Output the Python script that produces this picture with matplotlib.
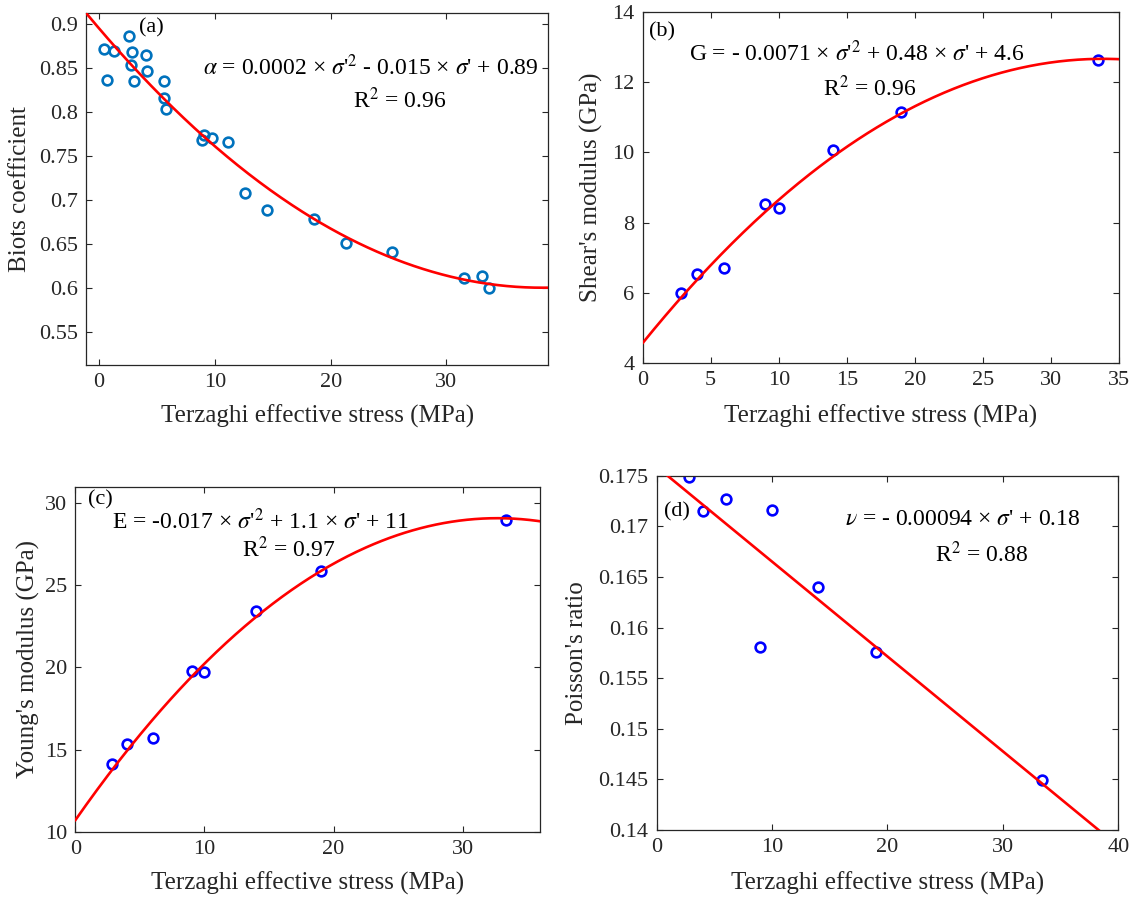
import numpy as np
import matplotlib
matplotlib.use("Agg")
import matplotlib.pyplot as plt
from matplotlib.ticker import FormatStrFormatter

plt.rcParams['font.family'] = ['Liberation Serif', 'DejaVu Serif']
plt.rcParams['mathtext.fontset'] = 'stix'

# ---- data ----
# (a) Biot's coefficient
stress_a = [0.41, 1.27, 2.57, 2.85, 4.04, 2.74, 4.15, 0.69, 3.03, 5.57, 5.57, 5.74,
            8.85, 9.07, 9.72, 11.1, 12.62, 14.51, 18.58, 21.30, 25.31, 31.48, 33.09, 33.70]
biot = [0.872, 0.870, 0.887, 0.868, 0.865, 0.854, 0.847, 0.837, 0.836, 0.836, 0.816, 0.803,
        0.768, 0.774, 0.771, 0.766, 0.708, 0.689, 0.678, 0.651, 0.641, 0.611, 0.613, 0.600]
fit_a = [0.0002016, -0.01543, 0.8953]

# (b), (c), (d) share the stress levels
stress = [2.8, 4.0, 6.0, 9.0, 10.0, 14.0, 19.0, 33.4]
shear = [6.00, 6.53, 6.70, 8.54, 8.42, 10.07, 11.16, 12.65]
fit_b = [-0.0071, 0.48, 4.56]
young = [14.12, 15.32, 15.69, 19.77, 19.71, 23.44, 25.86, 28.98]
fit_c = [-0.01719, 1.124, 10.71]
poisson = [0.1749, 0.17148, 0.17270, 0.15811, 0.17161, 0.16397, 0.15762, 0.14494]
fit_d = [-0.000937, 0.17588]

xlabel = 'Terzaghi effective stress (MPa)'
dark = '#262626'

fig = plt.figure(figsize=(11.36, 9), dpi=100)
ax1 = fig.add_axes([0.0760, 0.5944, 0.4067, 0.3908])
ax2 = fig.add_axes([0.5657, 0.5970, 0.4196, 0.3893])
ax3 = fig.add_axes([0.0664, 0.0759, 0.4090, 0.3833])
ax4 = fig.add_axes([0.5780, 0.0778, 0.4064, 0.3937])


def style(ax, ylab, ylab_x, xlab_y):
    ax.tick_params(direction='in', length=4.5, width=0.8, top=True, right=True,
                   labelsize=16, colors=dark, pad=6)
    for s in ax.spines.values():
        s.set_color(dark)
        s.set_linewidth(0.9)
    ax.set_xlabel(xlabel, fontsize=18, color=dark, va='center')
    ax.set_ylabel(ylab, fontsize=18, color=dark, va='center')
    ax.xaxis.set_label_coords(0.5, xlab_y)
    ax.yaxis.set_label_coords(ylab_x, 0.5)
    ax.yaxis.set_major_formatter(FormatStrFormatter('%g'))


def scatter_fit(ax, x, y, coef, xlim, color):
    ax.plot(x, y, 'o', ms=7, mfc='none', mec=color, mew=1.9, zorder=2)
    xs = np.linspace(xlim[0], xlim[1], 300)
    ax.plot(xs, np.polyval(coef, xs), color='red', lw=1.9, zorder=3)
    ax.set_xlim(xlim)


# (a)
scatter_fit(ax1, stress_a, biot, fit_a, (-1.1, 38.8), '#0072BD')
ax1.set_ylim(0.512, 0.9125)
ax1.set_xticks([0, 10, 20, 30])
ax1.set_yticks(np.arange(0.55, 0.91, 0.05))
style(ax1, 'Biots coefficient', -0.144, -0.147)
ax1.text(0.114, 0.958, '(a)', transform=ax1.transAxes, fontsize=16, va='center')
ax1.text(0.616, 0.847, r"$\alpha$ = 0.0002 × $\sigma$'$^2$ - 0.015 × $\sigma$' + 0.89",
         transform=ax1.transAxes, fontsize=17, ha='center', va='center')
ax1.text(0.679, 0.753, 'R$^2$ = 0.96', transform=ax1.transAxes, fontsize=17,
         ha='center', va='center')

# (b)
scatter_fit(ax2, stress, shear, fit_b, (0, 35), 'blue')
ax2.set_ylim(4, 14)
ax2.set_xticks(np.arange(0, 36, 5))
ax2.set_yticks(np.arange(4, 15, 2))
style(ax2, "Shear's modulus (GPa)", -0.107, -0.154)
ax2.text(0.014, 0.945, '(b)', transform=ax2.transAxes, fontsize=16, va='center')
ax2.text(0.450, 0.883, r"G = - 0.0071 × $\sigma$'$^2$ + 0.48 × $\sigma$' + 4.6",
         transform=ax2.transAxes, fontsize=17, ha='center', va='center')
ax2.text(0.476, 0.783, 'R$^2$ = 0.96', transform=ax2.transAxes, fontsize=17,
         ha='center', va='center')

# (c)
scatter_fit(ax3, stress, young, fit_c, (0, 36), 'blue')
ax3.set_ylim(10, 31)
ax3.set_xticks([0, 10, 20, 30])
ax3.set_yticks(np.arange(10, 31, 5))
style(ax3, "Young's modulus (GPa)", -0.101, -0.150)
ax3.text(0.026, 0.961, '(c)', transform=ax3.transAxes, fontsize=16, va='center')
ax3.text(0.397, 0.899, r"E = -0.017 × $\sigma$'$^2$ + 1.1 × $\sigma$' + 11",
         transform=ax3.transAxes, fontsize=17, ha='center', va='center')
ax3.text(0.459, 0.817, 'R$^2$ = 0.97', transform=ax3.transAxes, fontsize=17,
         ha='center', va='center')

# (d)
scatter_fit(ax4, stress, poisson, fit_d, (0, 40), 'blue')
ax4.set_ylim(0.14, 0.175)
ax4.set_xticks([0, 10, 20, 30, 40])
ax4.set_yticks(np.arange(0.14, 0.1751, 0.005))
style(ax4, "Poisson's ratio", -0.172, -0.150)
ax4.text(0.017, 0.897, '(d)', transform=ax4.transAxes, fontsize=16, va='center')
ax4.text(0.663, 0.875, r"$\nu$ = - 0.00094 × $\sigma$' + 0.18",
         transform=ax4.transAxes, fontsize=17, ha='center', va='center')
ax4.text(0.704, 0.779, 'R$^2$ = 0.88', transform=ax4.transAxes, fontsize=17,
         ha='center', va='center')

fig.savefig('out.png', dpi=100)
